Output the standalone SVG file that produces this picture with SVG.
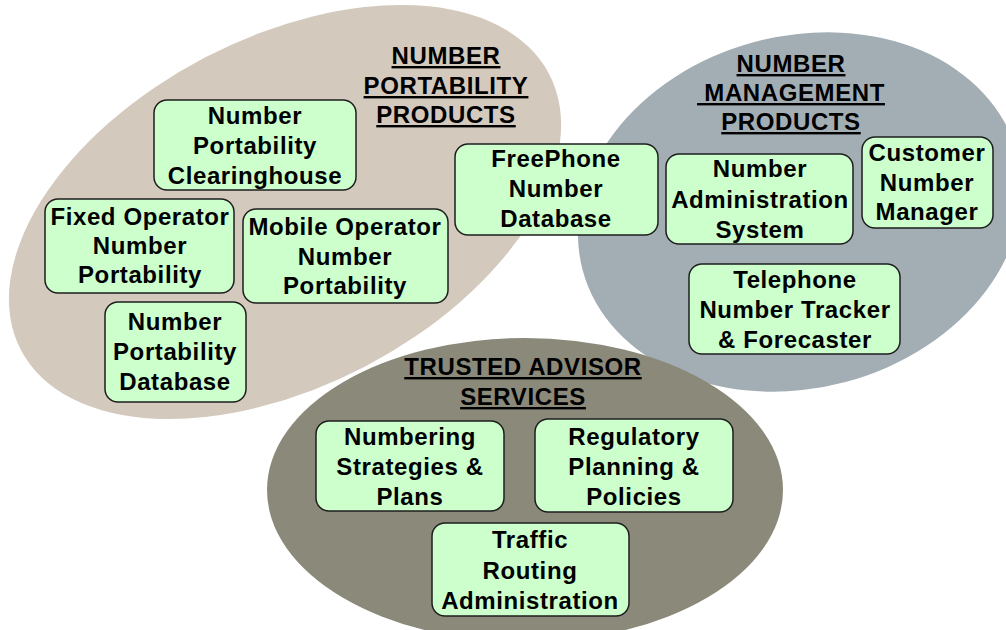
<svg xmlns="http://www.w3.org/2000/svg" width="1006" height="630" viewBox="0 0 1006 630">
  <style>
    .node rect { fill: #ccffcc; stroke: #1e1e1e; stroke-width: 1.5; }
    text { font-family: "Liberation Sans", Arial, sans-serif; font-weight: bold; font-size: 24px; letter-spacing: 0.6px; fill: #000; text-anchor: middle; }
    .title { text-decoration: underline; }
  </style>
  <rect width="1006" height="630" fill="#ffffff"/>

  <!-- product family areas -->
  <g id="areas">
    <ellipse id="area-portability" cx="285" cy="212" rx="298" ry="174" transform="rotate(-27.6 285 212)" fill="#d3c9bd"/>
    <ellipse id="area-management" cx="800" cy="212" rx="225" ry="176" transform="rotate(-15 800 212)" fill="#a3aeb4"/>
    <ellipse id="area-advisor" cx="525" cy="490" rx="258" ry="152" fill="#8b8979"/>
  </g>

  <!-- area titles -->
  <g id="title-portability">
    <text class="title" x="446" y="64">NUMBER</text>
    <text class="title" x="446" y="94">PORTABILITY</text>
    <text class="title" x="446" y="123">PRODUCTS</text>
  </g>
  <g id="title-management">
    <text class="title" x="791" y="72">NUMBER</text>
    <text class="title" x="791" y="101" xml:space="preserve"> MANAGEMENT</text>
    <text class="title" x="791" y="130">PRODUCTS</text>
  </g>
  <g id="title-advisor">
    <text class="title" x="523" y="375">TRUSTED ADVISOR</text>
    <text class="title" x="523" y="405">SERVICES</text>
  </g>

  <!-- no connectors between nodes -->
  <g id="connectors"/>

  <!-- Number portability products -->
  <g id="np-clearinghouse" class="node">
    <rect x="154" y="100" width="202" height="90" rx="13"/>
    <text x="255" y="124">Number</text>
    <text x="255" y="154">Portability</text>
    <text x="255" y="184">Clearinghouse</text>
  </g>
  <g id="fixed-operator-np" class="node">
    <rect x="45" y="199" width="189" height="94" rx="13"/>
    <text x="140" y="225">Fixed Operator</text>
    <text x="140" y="254">Number</text>
    <text x="140" y="283">Portability</text>
  </g>
  <g id="mobile-operator-np" class="node">
    <rect x="243" y="209" width="205" height="94" rx="13"/>
    <text x="345" y="235">Mobile Operator</text>
    <text x="345" y="265">Number</text>
    <text x="345" y="294">Portability</text>
  </g>
  <g id="np-database" class="node">
    <rect x="105" y="302" width="141" height="100" rx="13"/>
    <text x="175" y="330">Number</text>
    <text x="175" y="360">Portability</text>
    <text x="175" y="390">Database</text>
  </g>
  <g id="freephone-database" class="node">
    <rect x="455" y="144" width="203" height="91" rx="13"/>
    <text x="556" y="167">FreePhone</text>
    <text x="556" y="197">Number</text>
    <text x="556" y="227">Database</text>
  </g>

  <!-- Number management products -->
  <g id="number-administration" class="node">
    <rect x="666" y="154" width="187" height="90" rx="13"/>
    <text x="760" y="177">Number</text>
    <text x="760" y="208">Administration</text>
    <text x="760" y="238">System</text>
  </g>
  <g id="customer-number-manager" class="node">
    <rect x="862" y="137" width="131" height="91" rx="13"/>
    <text x="927" y="161">Customer</text>
    <text x="927" y="191">Number</text>
    <text x="927" y="220">Manager</text>
  </g>
  <g id="number-tracker" class="node">
    <rect x="689" y="264" width="211" height="90" rx="13"/>
    <text x="795" y="288">Telephone</text>
    <text x="795" y="318">Number Tracker</text>
    <text x="795" y="348">&amp; Forecaster</text>
  </g>

  <!-- Trusted advisor services -->
  <g id="numbering-strategies" class="node">
    <rect x="316" y="421" width="188" height="90" rx="13"/>
    <text x="410" y="445">Numbering</text>
    <text x="410" y="475">Strategies &amp;</text>
    <text x="410" y="505">Plans</text>
  </g>
  <g id="regulatory-planning" class="node">
    <rect x="535" y="419" width="198" height="93" rx="13"/>
    <text x="634" y="445">Regulatory</text>
    <text x="634" y="475">Planning &amp;</text>
    <text x="634" y="505">Policies</text>
  </g>
  <g id="traffic-routing" class="node">
    <rect x="432" y="523" width="197" height="93" rx="13"/>
    <text x="530" y="548">Traffic</text>
    <text x="530" y="579">Routing</text>
    <text x="530" y="609">Administration</text>
  </g>
</svg>
